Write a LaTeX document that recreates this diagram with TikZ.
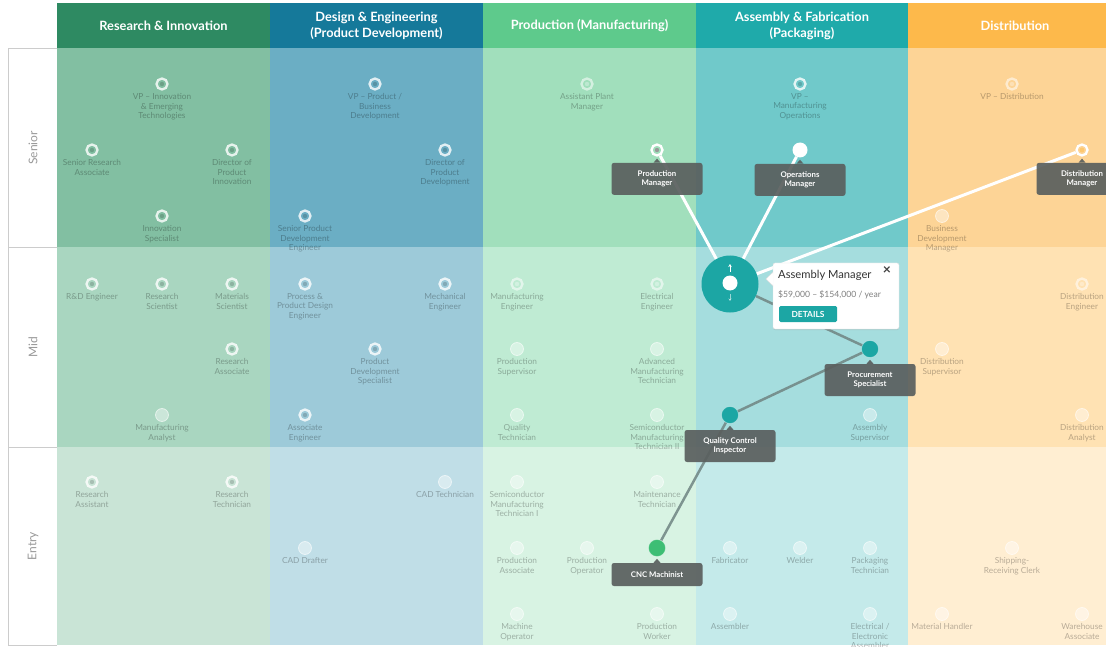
\documentclass[tikz,border=0pt]{standalone}
\usepackage{fontspec}
\setmainfont{Lato}
\usetikzlibrary{arrows.meta,shadows}
\definecolor{rH}{HTML}{2E8A62}\definecolor{rS}{HTML}{82BFA2}\definecolor{rM}{HTML}{A9D6C0}\definecolor{rE}{HTML}{C9E4D6}
\definecolor{dH}{HTML}{15799A}\definecolor{dS}{HTML}{6BAEC4}\definecolor{dM}{HTML}{9DCAD9}\definecolor{dE}{HTML}{C0DEE7}
\definecolor{pH}{HTML}{5ECA8C}\definecolor{pS}{HTML}{A1DFBC}\definecolor{pM}{HTML}{BFEBD3}\definecolor{pE}{HTML}{D8F3E3}
\definecolor{aH}{HTML}{1FAAAA}\definecolor{aS}{HTML}{70C9CA}\definecolor{aM}{HTML}{A5DDDE}\definecolor{aE}{HTML}{C4EAEA}
\definecolor{xH}{HTML}{FDB94B}\definecolor{xS}{HTML}{FDD496}\definecolor{xM}{HTML}{FFE2B3}\definecolor{xE}{HTML}{FFEED2}
\definecolor{tipc}{HTML}{5A5F5E}
\definecolor{amteal}{HTML}{1CA6A4}
\definecolor{cncg}{HTML}{3DBE74}
\definecolor{glink}{HTML}{6F8482}
\newcommand\job[5]{%
  \node[#4] (#1) at (#2,#3) {};
  \node[jlabel, anchor=north] (#1-t) at ([yshift=-1.5pt]#1.south) {#5};
}
\newcommand\tip[3]{%
  \node[tipbox, minimum height=#3, anchor=north] (#1-tip) at ([yshift=-6pt]#1.south) {#2};
  \fill[tipc, opacity=.92] ([xshift=-3.5pt]#1-tip.north) -- ([yshift=4pt]#1-tip.north) -- ([xshift=3.5pt]#1-tip.north) -- cycle;
}
\begin{document}
\begin{tikzpicture}[x=1pt,y=-1pt,
  ring/.style={circle, minimum size=11pt, inner sep=0pt, draw=white, draw opacity=.8, line width=2.3pt,
    path picture={\fill[black, opacity=.16] (path picture bounding box.center) circle (2.2pt);}},
  fring/.style={circle, minimum size=11pt, inner sep=0pt, draw=white, draw opacity=.55, line width=2.3pt,
    path picture={\fill[white, opacity=.3] (path picture bounding box.center) circle (2.2pt);}},
  plain/.style={circle, minimum size=13pt, inner sep=0pt, fill=white, fill opacity=.4, draw=white, draw opacity=.6, line width=.8pt},
  jlabel/.style={font=\fontsize{8.3}{9.6}\selectfont, text=black, text opacity=.28, align=center, inner sep=1pt},
  head/.style={font=\bfseries\fontsize{12.8}{15.5}\selectfont, text=white, align=center},
  rowlab/.style={font=\fontsize{12}{14}\selectfont, text=black!40, rotate=90},
  tipbox/.style={fill=tipc, fill opacity=.92, text opacity=1, text=white, rounded corners=2.5pt, minimum width=91pt, align=center, font=\bfseries\fontsize{7.8}{9.3}\selectfont, inner sep=2pt},
  wline/.style={white, line width=3pt},
  gline/.style={glink, line width=2.5pt, opacity=.85}]
\clip (0,0) rectangle (1106,647);
\fill[white] (0,0) rectangle (1106,647);
% columns
\foreach \c/\xa/\xb in {r/57/270, d/270/483, p/483/696, a/696/908, x/908/1130}{
  \fill[\c H] (\xa,3) rectangle (\xb,48);
  \fill[\c S] (\xa,48) rectangle (\xb,247);
  \fill[\c M] (\xa,247) rectangle (\xb,447);
  \fill[\c E] (\xa,447) rectangle (\xb,645);
}
% row label frame
\draw[black!20, line width=.8pt] (57,48) -- (8,48) -- (8,645) -- (57,645);
\draw[black!20, line width=.8pt] (8,247) -- (57,247);
\draw[black!20, line width=.8pt] (8,447) -- (57,447);
\node[rowlab] (lsen) at (33,148) {Senior};
\node[rowlab] (lmid) at (33,347) {Mid};
\node[rowlab] (lent) at (33,546) {Entry};
% headers
\node[head] (h1) at (163.5,25.5) {Research \& Innovation};
\node[head] (h2) at (376.5,26) {Design \& Engineering\\(Product Development)};
\node[head] (h3) at (589.5,25.5) {Production (Manufacturing)};
\node[head] (h4) at (802,26) {Assembly \& Fabrication\\(Packaging)};
\node[head] (h5) at (1015,25.5) {Distribution};
% senior
\job{vpi}{162}{84}{ring}{VP – Innovation\\\& Emerging\\Technologies}
\job{sra}{92}{150}{ring}{Senior Research\\Associate}
\job{dpi}{232}{150}{ring}{Director of\\Product\\Innovation}
\job{isp}{162}{216}{ring}{Innovation\\Specialist}
\job{spde}{305}{216}{ring}{Senior Product\\Development\\Engineer}
\job{vpp}{375}{84}{ring}{VP – Product /\\Business\\Development}
\job{dpd}{445}{150}{ring}{Director of\\Product\\Development}
\job{apm}{587}{84}{fring}{Assistant Plant\\Manager}
\job{vpm}{800}{84}{ring}{VP –\\Manufacturing\\Operations}
\job{vpd}{1012}{84}{fring}{VP – Distribution}
\job{bdm}{942}{216}{plain}{Business\\Development\\Manager}
% mid
\job{rde}{92}{284}{ring}{R\&D Engineer}
\job{rsc}{162}{284}{ring}{Research\\Scientist}
\job{msc}{232}{284}{ring}{Materials\\Scientist}
\job{rasc}{232}{349}{ring}{Research\\Associate}
\job{man}{162}{415}{plain}{Manufacturing\\Analyst}
\job{ppde}{305}{284}{ring}{Process \&\\Product Design\\Engineer}
\job{pds}{375}{349}{ring}{Product\\Development\\Specialist}
\job{ae}{305}{415}{ring}{Associate\\Engineer}
\job{me}{445}{284}{ring}{Mechanical\\Engineer}
\job{mfe}{517}{284}{fring}{Manufacturing\\Engineer}
\job{ee}{657}{284}{fring}{Electrical\\Engineer}
\job{psu}{517}{349}{plain}{Production\\Supervisor}
\job{amt}{657}{349}{plain}{Advanced\\Manufacturing\\Technician}
\job{qt}{517}{415}{plain}{Quality\\Technician}
\job{smtb}{657}{415}{plain}{Semiconductor\\Manufacturing\\Technician II}
\job{asu}{870}{415}{plain}{Assembly\\Supervisor}
\job{de}{1082}{284}{fring}{Distribution\\Engineer}
\job{dsu}{942}{349}{plain}{Distribution\\Supervisor}
\job{dan}{1082}{415}{plain}{Distribution\\Analyst}
% entry
\job{ra}{92}{482}{ring}{Research\\Assistant}
\job{rt}{232}{482}{ring}{Research\\Technician}
\job{cadd}{305}{548}{plain}{CAD Drafter}
\job{cadt}{445}{482}{plain}{CAD Technician}
\job{smta}{517}{482}{plain}{Semiconductor\\Manufacturing\\Technician I}
\job{mt}{657}{482}{plain}{Maintenance\\Technician}
\job{pa}{517}{548}{plain}{Production\\Associate}
\job{po}{587}{548}{plain}{Production\\Operator}
\job{mo}{517}{614}{plain}{Machine\\Operator}
\job{pw}{657}{614}{plain}{Production\\Worker}
\job{fab}{730}{548}{plain}{Fabricator}
\job{wel}{800}{548}{plain}{Welder}
\job{pt}{870}{548}{plain}{Packaging\\Technician}
\job{asm}{730}{614}{plain}{Assembler}
\job{eea}{870}{614}{plain}{Electrical /\\Electronic\\Assembler}
\job{src}{1012}{548}{plain}{Shipping-\\Receiving Clerk}
\job{mh}{942}{614}{plain}{Material Handler}
\job{wa}{1082}{614}{plain}{Warehouse\\Associate}
% highlighted nodes
\node[circle, fill=amteal, minimum size=57pt, inner sep=0pt] (am) at (730,284) {};
\node[circle, minimum size=11pt, inner sep=0pt, draw=white, line width=2.3pt,
  path picture={\fill[black!40] (path picture bounding box.center) circle (2.2pt);}] (pm) at (657,150) {};
\node[circle, fill=white, minimum size=15pt, inner sep=0pt] (om) at (800,150) {};
\node[circle, minimum size=11pt, inner sep=0pt, draw=white, line width=2.3pt,
  path picture={\fill[xH!80] (path picture bounding box.center) circle (2.4pt);}] (dm) at (1082,150) {};
\node[circle, fill=amteal, draw=white, draw opacity=.4, line width=.6pt, minimum size=17pt, inner sep=0pt] (ps) at (870,349) {};
\node[circle, fill=amteal, draw=white, draw opacity=.4, line width=.6pt, minimum size=17pt, inner sep=0pt] (qc) at (730,415) {};
\node[circle, fill=cncg, draw=white, draw opacity=.4, line width=.6pt, minimum size=17pt, inner sep=0pt] (cnc) at (657,548) {};
% connectors
\draw[wline] (am) -- (pm);
\draw[wline] (am) -- (om);
\draw[wline] (am) -- (dm);
\draw[gline] (am) -- (ps);
\draw[gline] (ps) -- (qc);
\draw[gline] (qc) -- (cnc);
% tooltips
\tip{pm}{Production\\Manager}{32pt}
\tip{om}{Operations\\Manager}{32pt}
\tip{dm}{Distribution\\Manager}{32pt}
\tip{ps}{Procurement\\Specialist}{32pt}
\tip{qc}{Quality Control\\Inspector}{32pt}
\tip{cnc}{CNC Machinist}{23pt}
% assembly manager centre
\node[circle, fill=white, minimum size=15pt, inner sep=0pt] (amdot) at (730,283) {};
\draw[white, line width=1pt, -{Stealth[length=3pt,width=3.5pt]}] (730,272) -- (730,264);
\draw[white, opacity=.55, line width=.8pt, -{Stealth[length=2.5pt,width=3pt]}] (730,294) -- (730,301);
% popup
\node[fill=white, draw=black!12, rounded corners=2pt, minimum width=126pt, minimum height=66pt, inner sep=0pt,
  drop shadow={shadow xshift=0pt, shadow yshift=-1pt, opacity=.2}] (pop) at (836,296) {};
\fill[white] (773.6,272) -- (766,279) -- (773.6,286) -- cycle;
\draw[black!12, line width=.4pt] (773,272) -- (766,279) -- (773,286);
\node[anchor=west, font=\fontsize{11.2}{12}\selectfont, text=black!80, inner sep=0pt] (poptitle) at (778,275) {Assembly Manager};
\node[font=\bfseries\fontsize{14}{14}\selectfont, text=black!75, inner sep=0pt] (popx) at (887,271) {×};
\node[anchor=west, font=\fontsize{8.6}{9}\selectfont, text=black!50, inner sep=0pt] (popsal) at (778,295) {\$59,000 – \$154,000 / year};
\node[fill=amteal, rounded corners=1.5pt, minimum width=58pt, minimum height=16pt, inner sep=0pt, text=white,
  font=\bfseries\fontsize{8.4}{9}\selectfont] (popbtn) at (808,314) {DETAILS};
\end{tikzpicture}
\end{document}
